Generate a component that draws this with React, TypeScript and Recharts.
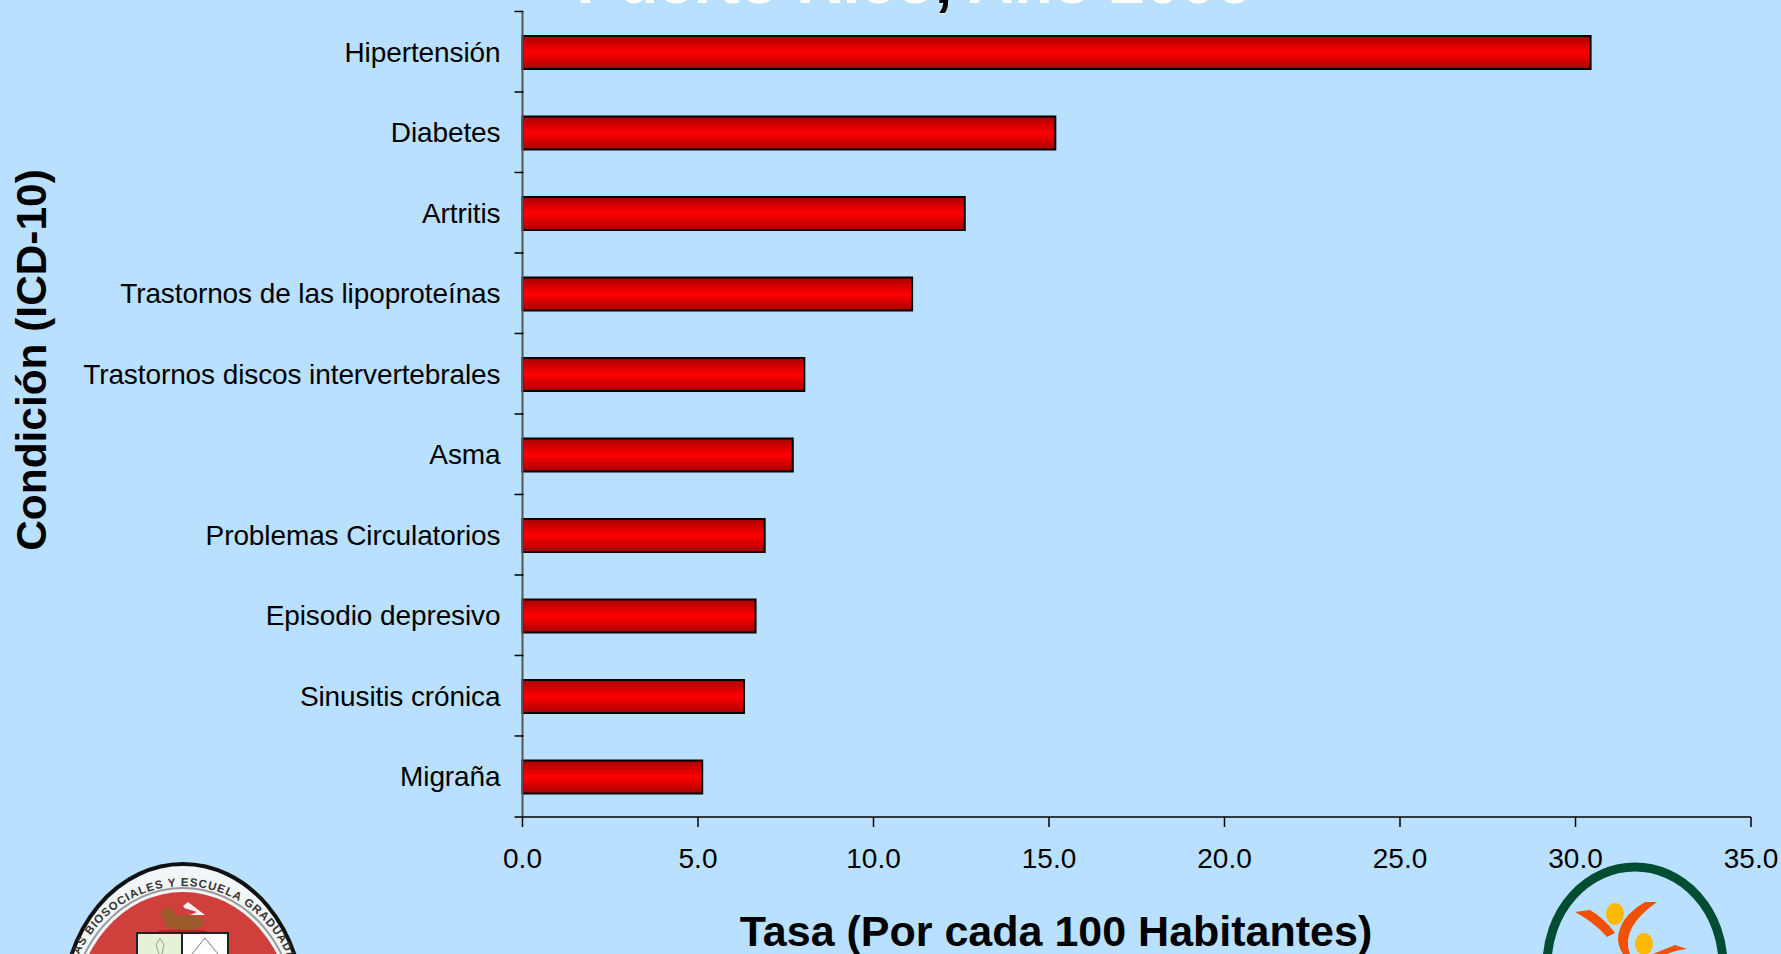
import React from 'react';
import { BarChart, Bar, XAxis, YAxis } from 'recharts';

const categories = [
  'Hipertensión',
  'Diabetes',
  'Artritis',
  'Trastornos de las lipoproteínas',
  'Trastornos discos intervertebrales',
  'Asma',
  'Problemas Circulatorios',
  'Episodio depresivo',
  'Sinusitis crónica',
  'Migraña',
];
const rates = [30.43, 15.18, 12.6, 11.1, 8.03, 7.7, 6.9, 6.64, 6.31, 5.12];
const xTicks = [0, 5, 10, 15, 20, 25, 30, 35];

const data = categories.map((name, i) => ({ name, rate: rates[i] }));

const W = 1781;
const H = 954;
const BAND = 80.55;
const FONT = '"Liberation Sans", Arial, sans-serif';

// ticks sit between the bars, so they are drawn with the label
const CategoryTick = ({ x, y, payload, index }: any) => (
  <g>
    <line x1={x} x2={x + 9} y1={y - BAND / 2 - 0.5} y2={y - BAND / 2 - 0.5} stroke="#000" strokeWidth={1.5} />
    {index === categories.length - 1 && (
      <line x1={x} x2={x + 9} y1={y + BAND / 2} y2={y + BAND / 2} stroke="#000" strokeWidth={1.5} />
    )}
    <text x={x - 14} y={y} dy={9.5} textAnchor="end" fontFamily={FONT} fontSize={28} letterSpacing={-0.1} fill="#000">
      {payload.value}
    </text>
  </g>
);

const Logos = () => (
  <svg width={W} height={H} style={{ position: 'absolute', left: 0, top: 0, pointerEvents: 'none' }}>
    <defs>
      <path id="sealArc" d="M 67 1010 A 116 124 0 0 1 299 1010" />
    </defs>
    <ellipse cx={183} cy={1008} rx={120} ry={144} fill="#f2f6f8" stroke="#111" strokeWidth={4} />
    <ellipse cx={183} cy={1018} rx={113} ry={130} fill="none" stroke="#999" strokeWidth={2} />
    <ellipse cx={183} cy={1018} rx={109} ry={126} fill="#cf3f3c" />
    <text fontFamily={FONT} fontWeight="bold" fontSize={11.5} letterSpacing={1} fill="#333">
      <textPath href="#sealArc" startOffset="45%" textAnchor="middle">CIENCIAS BIOSOCIALES Y ESCUELA GRADUADA</textPath>
    </text>
    <ellipse cx={184} cy={923} rx={20} ry={8} fill="#9a5a2a" />
    <ellipse cx={168} cy={914} rx={7} ry={6} fill="#9a5a2a" />
    <path d="M 160 930 L 204 930 L 208 932 L 157 932 Z" fill="#c21f25" />
    <path d="M 183 906 L 188 902 L 205 915 L 190 915 Z" fill="#f5f0f0" />
    <path d="M 184 908 L 197 912 L 190 915 Z" fill="#d8344a" />
    <rect x={137} y={933} width={45} height={30} fill="#e6f2d6" stroke="#222" strokeWidth={2} />
    <rect x={182} y={933} width={46} height={30} fill="#fff" stroke="#222" strokeWidth={2} />
    <path d="M 159 954 L 156 945 L 160 938 L 164 945 L 162 954" fill="none" stroke="#999" />
    <path d="M 192 954 L 205 938 L 218 954" fill="none" stroke="#777" />

    <ellipse cx={1635} cy={965} rx={88} ry={98} fill="none" stroke="#004d33" strokeWidth={9} />
    <path d="M 1575 912 L 1590 910 Q 1604 918 1615 933 L 1607 937 Q 1594 922 1575 912 Z" fill="#f05000" />
    <path d="M 1657 902 L 1645 902 Q 1618 918 1618 940 Q 1619 948 1623 954 L 1630 954 Q 1620 928 1657 902 Z" fill="#f05000" />
    <path d="M 1653 954 L 1675 945 L 1687 949 Q 1676 950 1667 954 Z" fill="#f05000" />
    <ellipse cx={1615} cy={914} rx={9} ry={11} fill="#ffb900" />
    <ellipse cx={1644} cy={944} rx={9} ry={11} fill="#ffb900" />
  </svg>
);

export default function App() {
  return (
    <div style={{ position: 'absolute', left: 0, top: 0, width: W, height: H, background: '#B9E1FF', overflow: 'hidden' }}>
      <BarChart
        width={W}
        height={H}
        data={data}
        layout="vertical"
        barSize={33}
        margin={{ top: 12, right: 30, bottom: 0, left: 0 }}
      >
        <defs>
          <linearGradient id="barFill" x1="0" y1="0" x2="0" y2="1">
            <stop offset="0%" stopColor="#a80000" />
            <stop offset="50%" stopColor="#ff0000" />
            <stop offset="100%" stopColor="#a80000" />
          </linearGradient>
        </defs>
        <XAxis
          type="number"
          domain={[0, 35]}
          ticks={xTicks}
          interval={0}
          height={137}
          tickFormatter={(v) => v.toFixed(1)}
          tick={{ fontFamily: FONT, fontSize: 28, fill: '#000' }}
          tickMargin={21}
          tickSize={10}
          stroke="#000"
          strokeWidth={1.5}
        />
        <YAxis
          type="category"
          dataKey="name"
          width={522.5}
          interval={0}
          tick={<CategoryTick />}
          tickLine={false}
          stroke="#555"
          strokeWidth={2}
        />
        <Bar dataKey="rate" fill="url(#barFill)" stroke="#000" strokeWidth={2} isAnimationActive={false} />
        <text x={914} y={3} textAnchor="middle" fontFamily={FONT} fontWeight="bold" fontSize={63.8} fill="#fff">
          Puerto Rico<tspan fill="#000" stroke="#fff" strokeWidth={0.8} paintOrder="stroke">,</tspan> Año 2006
        </text>
        <text x={1056} y={946} textAnchor="middle" fontFamily={FONT} fontWeight="bold" fontSize={43} fill="#000">
          Tasa (Por cada 100 Habitantes)
        </text>
        <text
          x={0}
          y={0}
          transform="translate(46 360) rotate(-90)"
          textAnchor="middle"
          fontFamily={FONT}
          fontWeight="bold"
          fontSize={42.4}
          fill="#000"
        >
          Condición (ICD-10)
        </text>
      </BarChart>
      <Logos />
    </div>
  );
}
